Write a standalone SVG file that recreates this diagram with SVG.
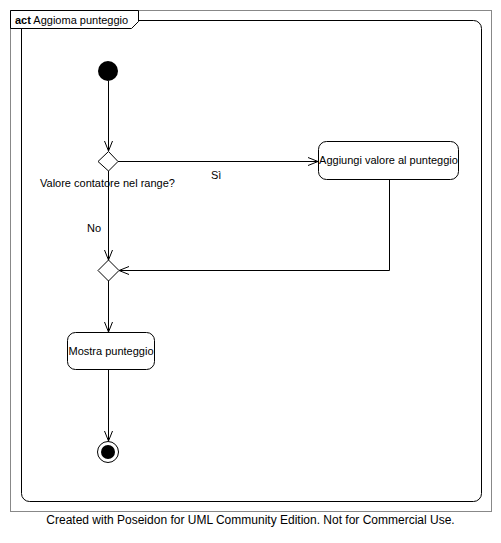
<svg xmlns="http://www.w3.org/2000/svg" width="501" height="543" viewBox="0 0 501 543">
<style>
text{font-family:"Liberation Sans",Arial,sans-serif;font-size:11px;fill:#000}
.ln{fill:none;stroke:#000;stroke-width:1}
.act{fill:#fff;stroke:#000;stroke-width:1}
</style>
<defs>
<marker id="arr" viewBox="0 0 10 10" refX="10" refY="5" markerWidth="10" markerHeight="10" markerUnits="userSpaceOnUse" orient="auto">
<path d="M0,1 L10,5 L0,9" fill="none" stroke="#000" stroke-width="1"/>
</marker>
</defs>
<rect width="501" height="543" fill="#fff"/>
<g id="frame">
<rect x="10.5" y="10.5" width="481" height="501" fill="none" stroke="#888"/>
<rect x="21.5" y="20.5" width="460" height="481" rx="8" fill="none" stroke="#000"/>
<path d="M10.5,10.5 H138.5 V21.5 L131.5,28.5 H10.5 Z" fill="#fff" stroke="#000"/>
<text x="15" y="24"><tspan font-weight="bold">act</tspan> Aggioma punteggio</text>
</g>
<g id="connectors">
<line class="ln" x1="108.5" y1="81" x2="108.5" y2="151" marker-end="url(#arr)"/>
<line class="ln" x1="118" y1="161.5" x2="318" y2="161.5" marker-end="url(#arr)"/>
<line class="ln" x1="108.5" y1="171" x2="108.5" y2="260" marker-end="url(#arr)"/>
<polyline class="ln" points="389.5,179 389.5,270.5 119,270.5" marker-end="url(#arr)"/>
<line class="ln" x1="108.5" y1="280" x2="108.5" y2="332" marker-end="url(#arr)"/>
<line class="ln" x1="108.5" y1="369" x2="108.5" y2="441" marker-end="url(#arr)"/>
<text x="211" y="179">Sì</text>
<text x="40" y="187">Valore contatore nel range?</text>
<text x="87" y="232">No</text>
</g>
<g id="initial"><circle cx="108" cy="71" r="10" fill="#000"/></g>
<g id="decision1"><path class="act" d="M108.5,151.5 L118,161.5 L108.5,171 L98,161.5 Z"/></g>
<g id="action1">
<rect class="act" x="318.5" y="141.5" width="140" height="38" rx="8"/>
<text x="388.5" y="164" text-anchor="middle">Aggiungi valore al punteggio</text>
</g>
<g id="merge"><path class="act" d="M108.5,260 L119,270.5 L108.5,281 L98,270.5 Z"/></g>
<g id="action2">
<rect class="act" x="67.5" y="332.5" width="87" height="37" rx="8"/>
<text x="111" y="355" text-anchor="middle">Mostra punteggio</text>
</g>
<g id="final">
<circle cx="108" cy="452" r="10.5" fill="#fff" stroke="#000"/>
<circle cx="108" cy="452" r="7" fill="#000"/>
</g>
<text x="250.5" y="524" text-anchor="middle" style="font-size:12px">Created with Poseidon for UML Community Edition. Not for Commercial Use.</text>
</svg>
